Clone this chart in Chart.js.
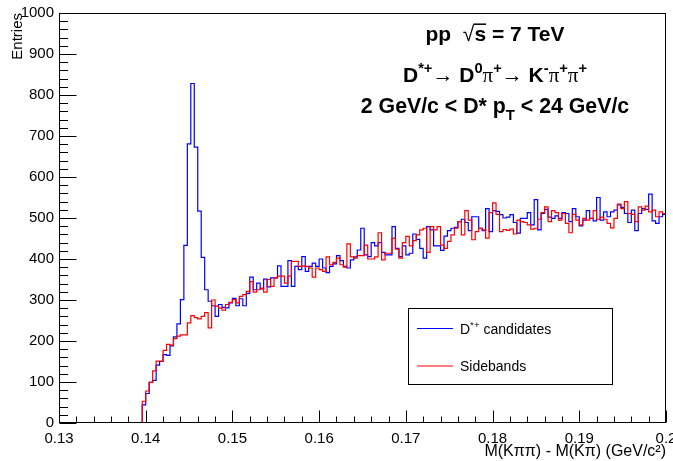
<!DOCTYPE html>
<html>
<head>
<meta charset="utf-8">
<script src="https://cdn.jsdelivr.net/npm/chart.js@4.4.1/dist/chart.umd.min.js"></script>
<style>
html,body{margin:0;padding:0;background:#fff;}
#c{display:block;}
</style>
</head>
<body>
<canvas id="c" width="673" height="461"></canvas>
<script>
// histogram binning (GeV/c^2)
const xMin = 0.13
const xMax = 0.2
const binWidth = 0.0004

const xTickLabels = ['0.13','0.14','0.15','0.16','0.17','0.18','0.19','0.2']
const yTickValues = [0,100,200,300,400,500,600,700,800,900,1000]

// entries per bin, D*+ candidates (blue)
const candidates = [
0,0,0,0,0,0,0,0,0,0,0,0,0,0,0,0,0,0,0,0,0,0,0,0,
44,72,99,104,141,150,167,165,188,210,242,301,433,681,828,673,517,404,325,297,
286,260,289,282,281,293,304,286,303,286,316,356,325,341,327,351,332,354,354,383,
333,333,396,333,382,374,406,370,382,390,382,400,378,367,382,388,408,396,382,378,
398,405,422,475,410,406,440,432,440,416,410,410,479,426,406,432,410,414,461,448,
426,402,479,471,432,432,421,456,469,475,477,491,497,489,469,503,503,475,469,523,
467,518,516,508,500,502,508,489,463,
499,499,513,483,545,471,511,521,502,499,505,499,513,511,491,523,503,481,495,518,
499,493,550,495,515,503,515,519,532,526,511,489,519,469,511,523,521,558,493,487,503,509
]

// entries per bin, sidebands (red)
const sidebands = [
0,0,0,0,0,0,0,0,0,0,0,0,0,0,0,0,0,0,0,0,0,0,0,0,
53,78,99,127,151,151,177,192,190,206,212,215,215,244,262,257,254,260,269,232,
300,285,280,275,289,294,301,293,309,313,321,345,319,325,329,319,350,333,354,358,
358,341,358,394,394,382,383,382,378,356,378,374,370,405,386,392,402,386,380,437,
405,402,408,408,434,400,400,405,464,398,414,414,451,424,402,440,455,432,445,459,
471,475,416,479,471,479,434,426,443,459,475,491,459,518,495,447,467,475,471,451,
513,537,509,467,472,470,473,461,495,
491,489,483,473,475,497,513,527,491,518,513,495,511,487,464,509,495,483,499,495,
499,518,497,502,497,487,476,499,534,523,540,511,509,491,527,519,529,515,519,503,515,511
]

const seriesNames = ['D*+ candidates','Sidebands']

// text lines of the plot (rich text pieces)
const headerLines = [
  [{t:'pp  '},{t:'√',thin:1},{t:'s',ov:1},{t:' = 7 TeV'}],
  [{t:'D'},{t:'*+',sup:1},{t:'→',thin:1},{t:' D'},{t:'0',sup:1},{t:'π',pi:1},{t:'+',sup:1},{t:'→',thin:1},{t:' K'},{t:'-',sup:1},{t:'π',pi:1},{t:'+',sup:1},{t:'π',pi:1},{t:'+',sup:1}],
  [{t:'2 GeV/c < D* p'},{t:'T',sub:1},{t:' < 24 GeV/c'}]
]
const legendLines = [
  [{t:'D'},{t:'*+',sup:1},{t:' candidates'}],
  [{t:'Sidebands'}]
]

const FAM = "'Liberation Sans', Arial, Helvetica, sans-serif"

// histogram outline: two points per bin (low edge, high edge)
function histPoints(vals){
  let pts = []
  vals.forEach((v,i)=>{
    pts.push({x: xMin + i*binWidth, y: v})
    pts.push({x: xMin + (i+1)*binWidth, y: v})
  })
  return pts
}

function drawRich(ctx, parts, x, base, size, bold, align){
  const fontOf = p=>{
    let s = (p.sup||p.sub) ? size*0.7 : size
    let fam = p.pi ? "'Liberation Serif', 'DejaVu Serif', serif" : FAM
    let wt = (bold && !p.pi && !p.thin) ? 'bold ' : ''
    return wt + s + 'px ' + fam
  }
  let total = 0
  parts.forEach(p=>{ ctx.font = fontOf(p); p.w = ctx.measureText(p.t).width; total += p.w })
  let cx = align=='center' ? x - total/2 : x
  ctx.textAlign = 'left'
  ctx.textBaseline = 'alphabetic'
  parts.forEach(p=>{
    ctx.font = fontOf(p)
    let y = base
    if(p.sup) y = base - size*0.42
    if(p.sub) y = base + size*0.32
    ctx.fillText(p.t, cx, y)
    if(p.ov){
      ctx.beginPath()
      ctx.lineWidth = 1.5
      ctx.moveTo(cx-1, base - size*0.8)
      ctx.lineTo(cx + p.w, base - size*0.8)
      ctx.stroke()
    }
    cx += p.w
  })
}

const rootFrame = {
  id:'rootFrame',
  afterDatasetsDraw(chart){
    const {ctx, chartArea:a, scales:{x,y}} = chart
    const L = Math.round(a.left)+0.5, R = Math.round(a.right)-0.5
    const T = Math.round(a.top)+0.5, B = Math.round(a.bottom)-0.5
    ctx.save()
    ctx.strokeStyle = '#000'
    ctx.lineWidth = 1
    ctx.strokeRect(L, T, R-L, B-T)
    ctx.beginPath()
    // x ticks, 5 divisions per label
    for(let i=0;i<=35;i++){
      let px = Math.round(x.getPixelForValue(xMin + i*0.002))+0.5
      let len = i%5==0 ? 12 : 6
      ctx.moveTo(px, B); ctx.lineTo(px, B-len)
    }
    // y ticks
    for(let i=0;i<=50;i++){
      let py = Math.round(y.getPixelForValue(i*20))+0.5
      let len = i%5==0 ? 17 : 8.5
      ctx.moveTo(L, py); ctx.lineTo(L+len, py)
    }
    ctx.stroke()
    ctx.restore()
  },
  afterDraw(chart){
    const ctx = chart.ctx
    ctx.save()
    ctx.fillStyle = '#000'
    ctx.strokeStyle = '#000'
    drawRich(ctx, headerLines[0], 495, 41, 21, true, 'center')
    drawRich(ctx, headerLines[1], 495, 82, 21, true, 'center')
    drawRich(ctx, headerLines[2], 495, 113, 21.3, true, 'center')

    // legend box
    ctx.lineWidth = 1
    ctx.strokeRect(408.5, 308.5, 204, 76)
    const ds = chart.data.datasets
    const rows = [328.5, 366]
    rows.forEach((ly,i)=>{
      ctx.strokeStyle = ds[i].borderColor
      ctx.beginPath(); ctx.moveTo(417, ly); ctx.lineTo(453, ly); ctx.stroke()
      ctx.fillStyle = '#000'
      drawRich(ctx, legendLines[i], 460, ly+5, 14, false, 'left')
    })
    ctx.restore()
  }
}

new Chart(document.getElementById('c'), {
  type:'line',
  data:{
    datasets:[
      {label:seriesNames[0], data:histPoints(candidates), borderColor:'#0000ff', borderWidth:1.2, pointRadius:0, tension:0, order:1},
      {label:seriesNames[1], data:histPoints(sidebands), borderColor:'#ff0000', borderWidth:1.2, pointRadius:0, tension:0, order:0}
    ]
  },
  options:{
    responsive:false,
    animation:false,
    devicePixelRatio:1,
    layout:{autoPadding:false, padding:{left:0, right:7, top:13, bottom:0}},
    plugins:{legend:{display:false}, tooltip:{enabled:false}},
    scales:{
      x:{
        type:'linear', min:xMin, max:xMax,
        afterBuildTicks: s=>{ s.ticks = xTickLabels.map(v=>({value:parseFloat(v)})) },
        afterFit: s=>{ s.height = 38; s.paddingLeft = 0; s.paddingRight = 0 },
        grid:{display:false, drawTicks:false, tickLength:0}, border:{display:false},
        ticks:{color:'#000', padding:7, maxRotation:0, autoSkip:false, font:{family:FAM, size:15},
          callback: v=> xTickLabels.find(t=>Math.abs(parseFloat(t)-v)<1e-9) || ''},
        title:{display:true, text:'M(Kππ) - M(Kπ) (GeV/c²)', align:'end', color:'#000',
          font:{family:FAM, size:16}, padding:{top:0, bottom:0}}
      },
      y:{
        min:0, max:1000,
        afterBuildTicks: s=>{ s.ticks = yTickValues.map(v=>({value:v})) },
        afterFit: s=>{ s.width = 59; s.paddingTop = 0; s.paddingBottom = 0 },
        grid:{display:false, drawTicks:false, tickLength:0}, border:{display:false},
        ticks:{color:'#000', padding:5, autoSkip:false, font:{family:FAM, size:15},
          callback: v=> String(v)},
        title:{display:true, text:'Entries', align:'end', color:'#000',
          font:{family:FAM, size:15}, padding:{top:9, bottom:0}}
      }
    }
  },
  plugins:[rootFrame]
})
</script>
</body>
</html>
